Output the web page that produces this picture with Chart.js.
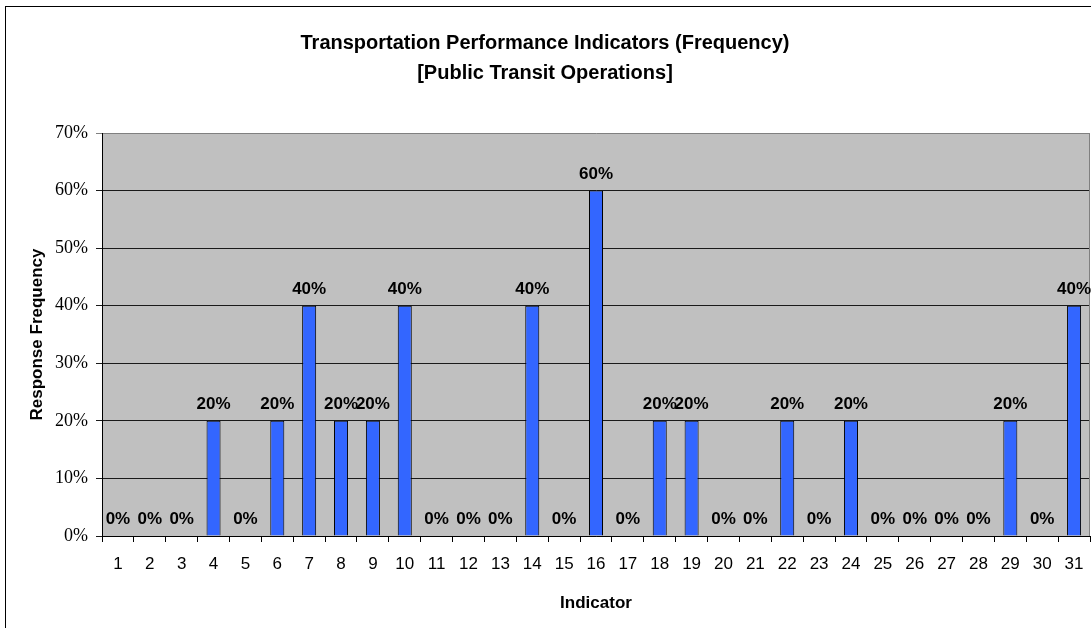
<!DOCTYPE html>
<html>
<head>
<meta charset="utf-8">
<script src="https://cdn.jsdelivr.net/npm/chart.js@4.4.1/dist/chart.umd.min.js"></script>
<style>
  html, body { margin: 0; padding: 0; background: #ffffff; overflow: hidden; }
  #wrap { position: absolute; left: 0; top: 0; width: 1091px; height: 628px; }
</style>
</head>
<body>
<div id="wrap"><canvas id="c" width="1091" height="628"></canvas></div>
<script>
const categories = ['1','2','3','4','5','6','7','8','9','10','11','12','13','14','15','16','17','18','19','20','21','22','23','24','25','26','27','28','29','30','31'];
const responseFrequency = [0,0,0,20,0,20,40,20,20,40,0,0,0,40,0,60,0,20,20,0,0,20,0,20,0,0,0,0,20,0,40];
const yTickValues = [0,10,20,30,40,50,60,70];
const titleLines = ['Transportation Performance Indicators (Frequency)', '[Public Transit Operations]'];
const xTitle = 'Indicator';
const yTitle = 'Response Frequency';

const SANS = '"Liberation Sans", Arial, sans-serif';
const SERIF = '"Liberation Serif", "Times New Roman", serif';

const frameAndBackground = {
  id: 'frameAndBackground',
  beforeDraw(chart) {
    const { ctx, chartArea: a } = chart;
    ctx.save();
    ctx.fillStyle = '#ffffff';
    ctx.fillRect(0, 0, chart.width, chart.height);
    ctx.strokeStyle = '#000000';
    ctx.lineWidth = 1;
    ctx.strokeRect(5.5, 6.5, 3000, 3000);
    ctx.fillStyle = '#C0C0C0';
    ctx.fillRect(a.left, a.top, a.right - a.left, a.bottom - a.top);
    ctx.restore();
  },
  afterDatasetsDraw(chart) {
    const { ctx, chartArea: a } = chart;
    ctx.save();
    ctx.strokeStyle = '#808080';
    ctx.lineWidth = 1;
    ctx.beginPath();
    ctx.moveTo(Math.round(a.right) - 0.5, a.top);
    ctx.lineTo(Math.round(a.right) - 0.5, a.bottom);
    ctx.stroke();
    // value labels
    const meta = chart.getDatasetMeta(0);
    ctx.fillStyle = '#000000';
    ctx.font = 'bold 17px ' + SANS;
    ctx.textAlign = 'center';
    ctx.textBaseline = 'alphabetic';
    meta.data.forEach((bar, i) => {
      const v = chart.data.datasets[0].data[i];
      ctx.fillText(v + '%', bar.x, bar.y - 12);
    });
    ctx.restore();
  }
};

new Chart(document.getElementById('c'), {
  type: 'bar',
  data: {
    labels: categories,
    datasets: [{
      data: responseFrequency,
      backgroundColor: '#3366FF',
      borderColor: '#000000',
      borderWidth: 1,
      categoryPercentage: 1.0,
      barPercentage: 0.44
    }]
  },
  options: {
    responsive: false,
    animation: false,
    devicePixelRatio: 1,
    layout: { padding: { left: 0, right: 1, top: 0, bottom: 0 } },
    plugins: {
      legend: { display: false },
      tooltip: { enabled: false },
      title: {
        display: true,
        text: titleLines,
        color: '#000000',
        font: { family: SANS, size: 20, weight: 'bold', lineHeight: 1.5 },
        padding: { top: 28, bottom: 45 }
      }
    },
    scales: {
      x: {
        offset: true,
        afterFit(scale) { scale.height = 92; scale.paddingLeft = 0; scale.paddingRight = 0; },
        grid: {
          offset: true,
          drawOnChartArea: false,
          drawTicks: true,
          tickLength: 6,
          color: '#000000'
        },
        border: { display: true, color: '#000000', width: 1 },
        ticks: {
          color: '#000000',
          font: { family: SANS, size: 17 },
          padding: 12,
          maxRotation: 0,
          autoSkip: false
        },
        title: {
          display: true,
          text: xTitle,
          color: '#000000',
          font: { family: SANS, size: 17, weight: 'bold', lineHeight: 1.2 },
          padding: { top: 0, bottom: 14 }
        }
      },
      y: {
        min: 0,
        max: 70,
        afterFit(scale) { scale.width = 102; },
        afterBuildTicks(scale) { scale.ticks = yTickValues.map(v => ({ value: v })); },
        grid: {
          drawTicks: true,
          tickLength: 6,
          color: ctx => (ctx.tick && ctx.tick.value === 70) ? '#808080' : '#1a1a1a',
          lineWidth: 1
        },
        border: { display: true, color: '#000000', width: 1 },
        ticks: {
          stepSize: 10,
          color: '#000000',
          font: { family: SERIF, size: 18 },
          padding: 8,
          callback: v => v + '%'
        },
        title: {
          display: true,
          text: yTitle,
          color: '#000000',
          font: { family: SANS, size: 17, weight: 'bold', lineHeight: 1.2 },
          padding: { top: 27, bottom: 0 }
        }
      }
    }
  },
  plugins: [frameAndBackground]
});
</script>
</body>
</html>
